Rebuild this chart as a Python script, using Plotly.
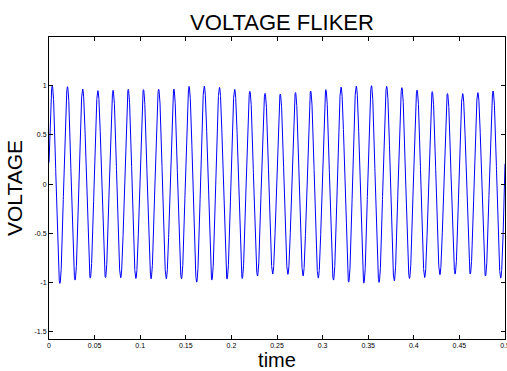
import numpy as np
import plotly.graph_objects as go

# Envelope: amplitude of each positive peak and each negative trough (30 cycles of 60 Hz)
peak_amp = [1.00, 0.99, 0.966, 0.95, 0.953, 0.963, 0.96, 0.963, 0.966, 0.993,
            0.997, 0.983, 0.963, 0.942, 0.922, 0.915, 0.93, 0.946, 0.96, 0.986,
            0.997, 1.00, 0.993, 0.98, 0.956, 0.94, 0.92, 0.92, 0.93, 0.946]
trough_amp = [1.01, 0.976, 0.956, 0.95, 0.953, 0.96, 0.963, 0.963, 0.963, 0.997,
              0.976, 0.966, 0.96, 0.935, 0.915, 0.918, 0.935, 0.956, 0.976, 0.997,
              1.007, 1.00, 0.983, 0.96, 0.95, 0.922, 0.915, 0.915, 0.935, 0.956]
freq_hz = 60.0
phase0 = 0.22
t_end = 0.5

x_ticks = [0, 0.05, 0.1, 0.15, 0.2, 0.25, 0.3, 0.35, 0.4, 0.45, 0.5]
x_labels = ["0", "0.05", "0.1", "0.15", "0.2", "0.25", "0.3", "0.35", "0.4", "0.45", "0.5"]
y_ticks = [-1.5, -1, -0.5, 0, 0.5, 1]
y_labels = ["-1.5", "-1", "-0.5", "0", "0.5", "1"]

env = []
for p, q in zip(peak_amp, trough_amp):
    env += [p, q]
env = np.array(env + [peak_amp[-1]])

t = np.linspace(0, t_end, 6001)
theta = 2 * np.pi * freq_hz * t + phase0
h = np.clip(np.floor(theta / np.pi).astype(int), 0, len(env) - 1)
v = env[h] * np.sin(theta)

fig = go.Figure()
fig.add_trace(go.Scatter(x=t, y=v, mode="lines", line=dict(color="#0000ff", width=1),
                         hoverinfo="skip", showlegend=False))

font = "Arial, Liberation Sans, sans-serif"
fig.update_layout(
    width=507, height=371,
    margin=dict(l=49, r=2, t=37, b=32, autoexpand=False),
    paper_bgcolor="white", plot_bgcolor="white",
    font=dict(family=font, color="black"),
    title=dict(text="VOLTAGE FLIKER", font=dict(size=22, family=font, color="black"),
               x=282 / 507, xref="container", xanchor="center",
               y=1 - 22 / 371, yref="container", yanchor="middle"),
)
fig.update_xaxes(
    range=[0, 0.5], tickvals=x_ticks, ticktext=x_labels, ticklabeloverflow="allow",
    automargin=False,
    showline=True, linecolor="black", linewidth=1, mirror="ticks",
    ticks="inside", ticklen=4, tickcolor="black", tickwidth=1,
    tickfont=dict(size=7, family=font, color="black"), showgrid=False, zeroline=False,
    title=dict(text="time", font=dict(size=20, family=font, color="black"), standoff=2),
)
fig.update_yaxes(
    range=[-1.575, 1.495], tickvals=y_ticks, ticktext=y_labels,
    automargin=False,
    showline=True, linecolor="black", linewidth=1, mirror="ticks",
    ticks="inside", ticklen=4, tickcolor="black", tickwidth=1,
    tickfont=dict(size=7, family=font, color="black"), showgrid=False, zeroline=False,
    title=dict(text="VOLTAGE", font=dict(size=21, family=font, color="black"), standoff=6),
)
fig.write_html("out.html")
